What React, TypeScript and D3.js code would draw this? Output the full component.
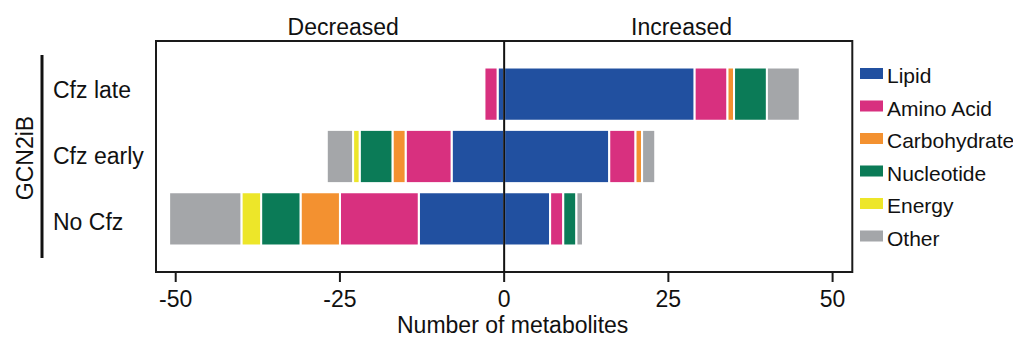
import React from 'react';
import * as d3 from 'd3';

// row order top -> bottom
const groups = ['Cfz late', 'Cfz early', 'No Cfz'];
const classes = ['Lipid', 'Amino Acid', 'Carbohydrate', 'Nucleotide', 'Energy', 'Other'];
const classColors = ['#2150a0', '#d8307f', '#f39130', '#0b7b57', '#ede629', '#a4a6a9'];

// metabolites per class (Lipid, Amino Acid, Carbohydrate, Nucleotide, Energy, Other)
const lateDown = [1, 2, 0, 0, 0, 0];
const lateUp = [29, 5, 1, 5, 0, 5];
const earlyDown = [8, 7, 2, 5, 1, 4];
const earlyUp = [16, 4, 1, 0, 0, 2];
const noCfzDown = [13, 12, 6, 6, 3, 11];
const noCfzUp = [7, 2, 0, 2, 0, 1];

const xTicks = [-50, -25, 0, 25, 50];
const xDomain = [-53, 53];

const FONT = '"Liberation Sans", Arial, Helvetica, sans-serif';

export default function App() {
  const width = 1013;
  const height = 339;
  const margin = { top: 41, right: 161, bottom: 67, left: 156 };
  const innerW = 852.3 - margin.left;
  const innerH = 272 - margin.top;

  const x = d3.scaleLinear().domain(xDomain).range([margin.left, margin.left + innerW]);
  const y = d3
    .scaleBand<string>()
    .domain(groups)
    .range([margin.top, margin.top + innerH])
    .paddingInner(0.1465)
    .paddingOuter(0.425);
  // the row labels sit a little further apart than the bars
  const yLabel = d3.scalePoint<string>().domain(groups).range([98, 229.5]);

  // table for d3.stack: one key per class and direction, negatives for "down"
  const downRows = [lateDown, earlyDown, noCfzDown];
  const upRows = [lateUp, earlyUp, noCfzUp];
  const keys = [...classes.map(c => c + '|down'), ...classes.map(c => c + '|up')];
  const table = groups.map((g, gi) => {
    const row: any = { group: g };
    classes.forEach((c, ci) => {
      row[c + '|down'] = -downRows[gi][ci];
      row[c + '|up'] = upRows[gi][ci];
    });
    return row;
  });
  const series = d3.stack<any>().keys(keys).offset(d3.stackOffsetDiverging)(table);

  const color = d3.scaleOrdinal<string, string>().domain(classes).range(classColors);

  return (
    <svg
      width={width}
      height={height}
      style={{ position: 'absolute', left: 0, top: 0, background: '#fff' }}
      fontFamily={FONT}
    >
      {/* bars */}
      {series.map(s => {
        const cls = s.key.split('|')[0];
        return (
          <g key={s.key} fill={color(cls)} stroke="#fff" strokeWidth={2}>
            {s.map((d, i) => {
              const x0 = x(Math.min(d[0], d[1]));
              const x1 = x(Math.max(d[0], d[1]));
              if (x1 - x0 <= 0) return null;
              return (
                <rect
                  key={i}
                  x={x0}
                  y={y(d.data.group)}
                  width={x1 - x0}
                  height={y.bandwidth()}
                />
              );
            })}
          </g>
        );
      })}

      {/* frame */}
      <rect
        x={margin.left}
        y={margin.top}
        width={innerW}
        height={innerH}
        fill="none"
        stroke="#1a1a1a"
        strokeWidth={2}
      />
      {/* zero line */}
      <line x1={x(0)} x2={x(0)} y1={margin.top} y2={margin.top + innerH} stroke="#111" strokeWidth={2} />

      {/* x axis ticks */}
      {xTicks.map(t => (
        <g key={t}>
          <line x1={x(t)} x2={x(t)} y1={margin.top + innerH} y2={margin.top + innerH + 10} stroke="#1a1a1a" strokeWidth={2} />
          <text x={x(t)} y={306.5} textAnchor="middle" fontSize={23} fill="#111">
            {t}
          </text>
        </g>
      ))}
      <text x={x(1.3)} y={332.5} textAnchor="middle" fontSize={23} fill="#111">
        Number of metabolites
      </text>

      {/* top labels */}
      <text x={x(-24.5)} y={35} textAnchor="middle" fontSize={23} fill="#111">
        Decreased
      </text>
      <text x={x(27)} y={35} textAnchor="middle" fontSize={23} fill="#111">
        Increased
      </text>

      {/* group labels */}
      {groups.map(g => (
        <text key={g} x={53} y={yLabel(g)} fontSize={23} fill="#111">
          {g}
        </text>
      ))}
      <line x1={42} x2={42} y1={55} y2={258} stroke="#111" strokeWidth={3} />
      <text transform="translate(33,158) rotate(-90)" textAnchor="middle" fontSize={23} fill="#111">
        GCN2iB
      </text>

      {/* legend */}
      {classes.map((c, i) => (
        <g key={c} transform={`translate(860,${68 + i * 32.5})`}>
          <rect x={0} y={0} width={23} height={11} fill={color(c)} />
          <text x={27} y={15} fontSize={21} fill="#111">
            {c}
          </text>
        </g>
      ))}
    </svg>
  );
}
